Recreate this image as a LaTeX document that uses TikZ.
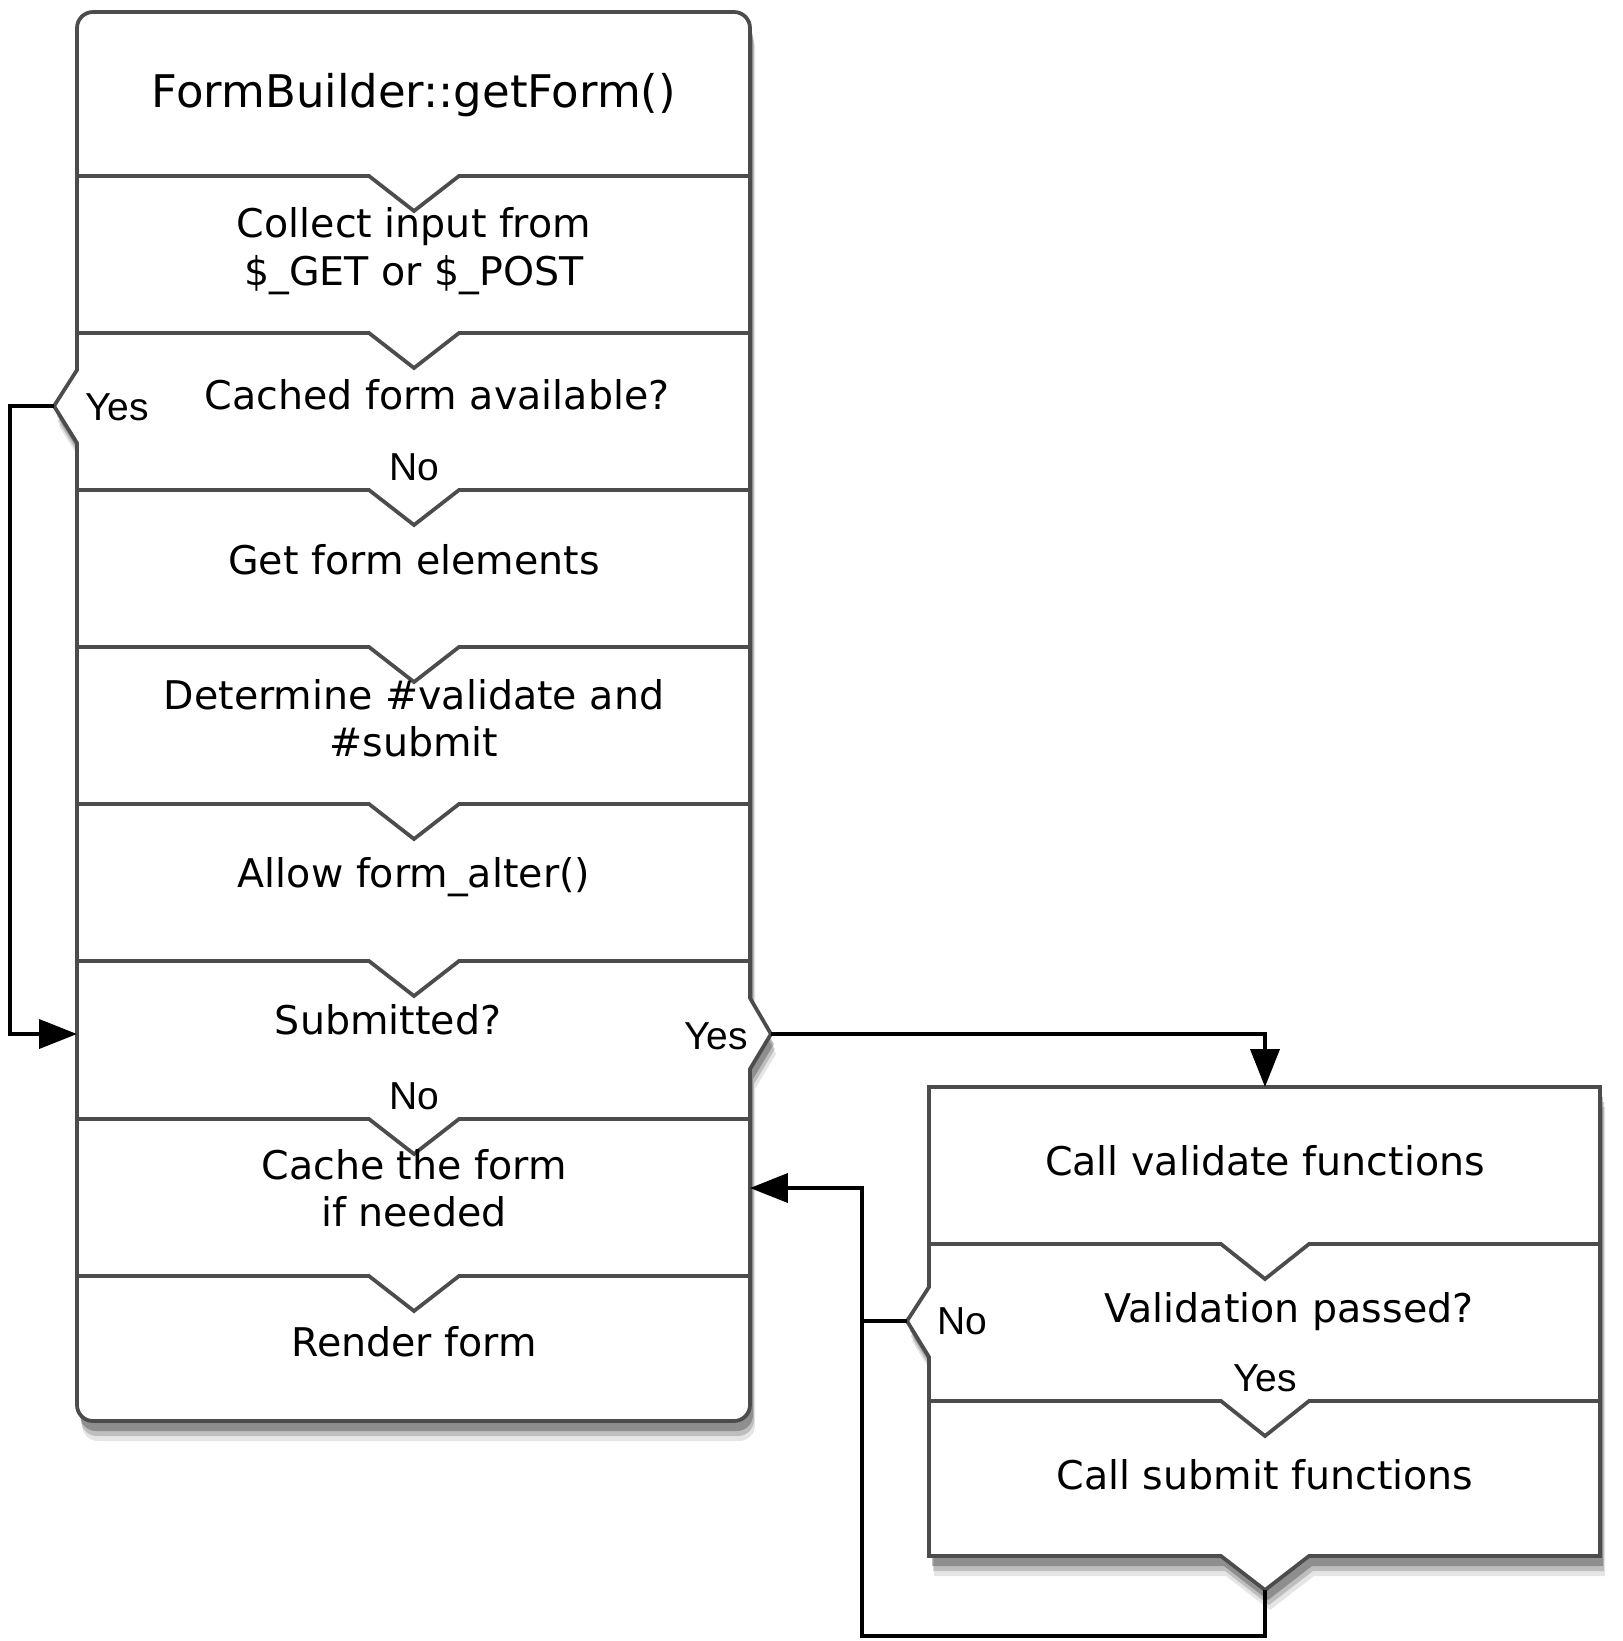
\documentclass[tikz,border=0pt]{standalone}
\usepackage{fontspec}
\setmainfont{DejaVu Sans}
\newfontfamily\labelfont{Liberation Sans}
\usepackage{tikz}
\usetikzlibrary{arrows.meta,shadows}

\begin{document}
\begin{tikzpicture}[
x=0.02cm, y=-0.02cm,
font=\fontsize{22.5}{27}\selectfont,
boxline/.style={draw=black!70, line width=0.075cm, line join=miter},
boxshape/.style={boxline, fill=white,
  drop shadow={shadow xshift=0.1cm, shadow yshift=-0.4cm, opacity=0.1, fill=black},
  drop shadow={shadow xshift=0.08cm, shadow yshift=-0.3cm, opacity=0.17, fill=black},
  drop shadow={shadow xshift=0.06cm, shadow yshift=-0.2cm, opacity=0.25, fill=black}},
flow/.style={draw=black, line width=0.08cm, -{Triangle[length=0.76cm,width=0.58cm]}},
link/.style={draw=black, line width=0.08cm},
answer/.style={font=\labelfont\fontsize{22.2}{26}\selectfont},
step title/.style={font=\fontsize{25.6}{30}\selectfont}
]
    % page size
    \useasboundingbox (0,0) rectangle (1623,1641);

    % main box with the two side tips
    \path[boxshape] (77,443) [rounded corners=0.32cm] -- (77,1421) -- (750,1421)
        [sharp corners] -- (750,1069) -- (771,1034) -- (750,998)
        [rounded corners=0.32cm] -- (750,12) -- (77,12)
        [sharp corners] -- (77,370) -- (54,406) -- cycle;

    % right box
    \path[boxshape] (929,1357) -- (929,1556) -- (1221,1556) -- (1265,1590) -- (1309,1556)
        -- (1600,1556) -- (1600,1087) -- (929,1087) -- (929,1287) -- (907,1321) -- cycle;

    % section borders
    \draw[boxline] (77,176) -- (369,176) -- (414,211) -- (459,176) -- (750,176);
    \draw[boxline] (77,333) -- (369,333) -- (414,368) -- (459,333) -- (750,333);
    \draw[boxline] (77,490) -- (369,490) -- (414,525) -- (459,490) -- (750,490);
    \draw[boxline] (77,647) -- (369,647) -- (414,682) -- (459,647) -- (750,647);
    \draw[boxline] (77,804) -- (369,804) -- (414,839) -- (459,804) -- (750,804);
    \draw[boxline] (77,961) -- (369,961) -- (414,996) -- (459,961) -- (750,961);
    \draw[boxline] (77,1119) -- (369,1119) -- (414,1154) -- (459,1119) -- (750,1119);
    \draw[boxline] (77,1276) -- (369,1276) -- (414,1311) -- (459,1276) -- (750,1276);
    \draw[boxline] (929,1244) -- (1221,1244) -- (1265,1279) -- (1309,1244) -- (1600,1244);
    \draw[boxline] (929,1401) -- (1221,1401) -- (1265,1436) -- (1309,1401) -- (1600,1401);

    % texts
    \node[step title] (title) at (414,95) {FormBuilder::getForm()};
    \node[align=center] (collect) at (414,251) {Collect input from\\\$\_GET or \$\_POST};
    \node (cached) at (437,395) {Cached form available?};
    \node[answer] (cachedYes) at (117,407) {Yes};
    \node[answer] (cachedNo) at (414,467) {No};
    \node (elements) at (414,560) {Get form elements};
    \node[align=center] (determine) at (414,718) {Determine \#validate and\\\#submit};
    \node (alter) at (414,877) {Allow form\_alter()};
    \node (submitted) at (388,1020) {Submitted?};
    \node[answer] (submittedYes) at (716,1036) {Yes};
    \node[answer] (submittedNo) at (414,1096) {No};
    \node[align=center] (cacheform) at (414,1188) {Cache the form\\if needed};
    \node (render) at (414,1342) {Render form};
    \node (validate) at (1265,1161) {Call validate functions};
    \node (passed) at (1289,1312) {Validation passed?};
    \node[answer] (passedNo) at (962,1321) {No};
    \node[answer] (passedYes) at (1265,1378) {Yes};
    \node (submit) at (1265,1475) {Call submit functions};

    % tips and entry points
    \coordinate (cachedTip) at (54,406);
    \coordinate (submittedTip) at (771,1034);
    \coordinate (passedTip) at (907,1321);
    \coordinate (submitTip) at (1265,1590);
    \coordinate (submittedIn) at (77,1034);
    \coordinate (validateIn) at (1265,1087);
    \coordinate (cacheIn) at (750,1188);
    \coordinate (noJoin) at (862,1321);

    % connectors
    \draw[flow] (cachedTip) -- ++(-44,0) |- (submittedIn);
    \draw[flow] (submittedTip) -| (validateIn);
    \draw[flow] (passedTip) -- (noJoin) |- (cacheIn);
    \draw[link] (submitTip) -- ++(0,46) -| (noJoin);
\end{tikzpicture}
\end{document}
